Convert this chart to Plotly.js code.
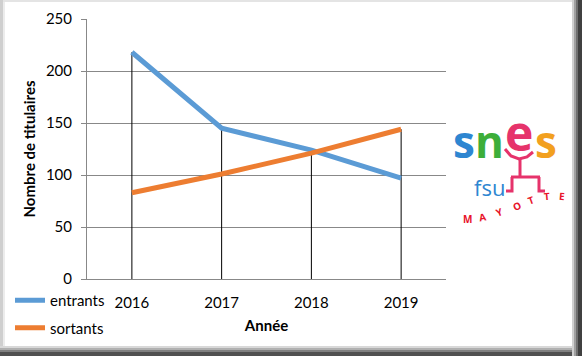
<!DOCTYPE html>
<html>
<head>
<meta charset="utf-8">
<script src="https://cdn.plot.ly/plotly-3.0.1.min.js"></script>
<style>html,body{margin:0;padding:0;background:#fff;}</style>
</head>
<body>
<div id="chart" style="width:582px;height:356px;"></div>
<script>
const years = ['2016', '2017', '2018', '2019'];
const entrants = [218, 145, 124, 97];
const sortants = [83, 101, 121, 144];
const seriesNames = ['entrants', 'sortants'];
const yTicks = [0, 50, 100, 150, 200, 250];

const W = 582, H = 356, ML = 87, MR = 136, MT = 19, MB = 77;
const PW = W - ML - MR, PH = H - MT - MB;
const px = x => (x - ML) / PW;
const py = y => (H - MB - y) / PH;

// drop lines from the highest point down to zero
const dropX = [], dropY = [];
years.forEach((yr, i) => {
  dropX.push(yr, yr, null);
  dropY.push(0, Math.max(entrants[i], sortants[i]), null);
});

const font = 'Lato, "Liberation Sans", sans-serif';

const traces = [
  {x: dropX, y: dropY, mode: 'lines', line: {color: '#000', width: 1}, showlegend: false, hoverinfo: 'skip'},
  {x: years, y: entrants, name: seriesNames[0], mode: 'lines', legendgroup: 'a',
   line: {color: '#5B9BD5', width: 5}},
  {x: years, y: sortants, name: seriesNames[1], mode: 'lines', legendgroup: 'b',
   line: {color: '#ED7D31', width: 5}}
];

// frame (bevel)
const shapes = [];
function rect(x0, y0, x1, y1, color) {
  shapes.push({type: 'rect', xref: 'paper', yref: 'paper', layer: 'above',
    x0: px(x0), x1: px(x1), y0: py(y1), y1: py(y0), fillcolor: color, line: {width: 0}});
}
rect(0, 0, 582, 2, '#e4e4e4');
rect(0, 0, 3, 356, '#cfcfcf');
rect(3, 2, 5, 350, '#ececec');
rect(0, 346, 582, 348, '#d8d8d8');
rect(0, 348, 582, 350, '#b0b0b0');
rect(0, 350, 582, 352, '#808080');
rect(0, 352, 582, 356, '#505050');
rect(572, 0, 574, 356, '#d0d0d0');
rect(574, 0, 576, 356, '#a0a0a0');
rect(576, 0, 578, 356, '#707070');
rect(578, 0, 582, 356, '#404040');

// logo stick figure
const pink = '#E6336B';
function seg(pts, width) {
  let d = 'M' + pts.map(p => px(p[0]) + ',' + py(p[1])).join(' L');
  shapes.push({type: 'path', xref: 'paper', yref: 'paper', path: d, line: {color: pink, width: width}});
}
seg([[505, 149], [511, 156], [519, 159], [527, 157], [533, 152]], 3);
seg([[520, 159], [520, 177]], 3);
seg([[511, 177], [540, 177]], 3);
seg([[512, 177], [512, 191], [506, 191]], 3);
seg([[539, 177], [539, 191], [545, 191]], 3);

const ann = [];
function txt(t, x, y, size, color, angle, anchor) {
  ann.push({text: t, xref: 'paper', yref: 'paper', x: px(x), y: py(y),
    showarrow: false, xanchor: anchor || 'center', yanchor: 'middle', textangle: angle || 0,
    borderpad: 0,
    font: {family: '"Open Sans", sans-serif', size: size, color: color, weight: 'bold'}});
}
txt('<span style="color:#2E86D1">s</span><span style="color:#3DAE3A">n</span>', 452, 141, 44, '#2E86D1', 0, 'left');
txt('e', 504, 132, 48, pink, 0, 'left');
txt('s', 534, 141, 44, '#F2A01F', 0, 'left');
ann.push({text: 'fsu', xref: 'paper', yref: 'paper', x: px(489), y: py(187), showarrow: false,
  xanchor: 'center', yanchor: 'middle', borderpad: 0,
  font: {family: '"Open Sans", sans-serif', size: 22, color: '#2E86D1'}});
const may = [['M', 467, 219, 0], ['A', 482, 217, -10], ['Y', 499, 212, -20], ['O', 517, 206, -25],
             ['T', 531, 200, -20], ['T', 547, 196, -5], ['E', 562, 196, 5]];
may.forEach(m => txt(m[0], m[1], m[2], 10, '#E8142A', m[3]));

const layout = {
  width: W, height: H,
  margin: {l: ML, r: MR, t: MT, b: MB, autoexpand: false},
  paper_bgcolor: '#fff', plot_bgcolor: '#fff',
  font: {family: font, color: '#000', size: 15},
  showlegend: true,
  legend: {x: px(10), y: py(284), xanchor: 'left', yanchor: 'top',
    traceorder: 'grouped', tracegroupgap: 5, font: {size: 15, family: font},
    bgcolor: 'rgba(0,0,0,0)'},
  xaxis: {type: 'category', range: [-0.5, 3.5], showgrid: false, zeroline: false,
    showline: true, linecolor: '#888', linewidth: 1, ticks: '', ticklabelstandoff: 10,
    tickfont: {size: 15},
    title: {text: '<b>Année</b>', font: {size: 15}, standoff: 10}},
  yaxis: {range: [0, 250], tickvals: yTicks, showgrid: true, gridcolor: '#888', gridwidth: 1,
    zeroline: false, showline: true, linecolor: '#888', linewidth: 1,
    ticks: 'outside', ticklen: 5, tickcolor: '#888', ticklabelstandoff: 6,
    tickfont: {size: 15},
    title: {text: '<b>Nombre de titulaires</b>', font: {size: 15}, standoff: 6}},
  shapes: shapes,
  annotations: ann
};

Plotly.newPlot('chart', traces, layout, {displayModeBar: false, staticPlot: true});
</script>
</body>
</html>
